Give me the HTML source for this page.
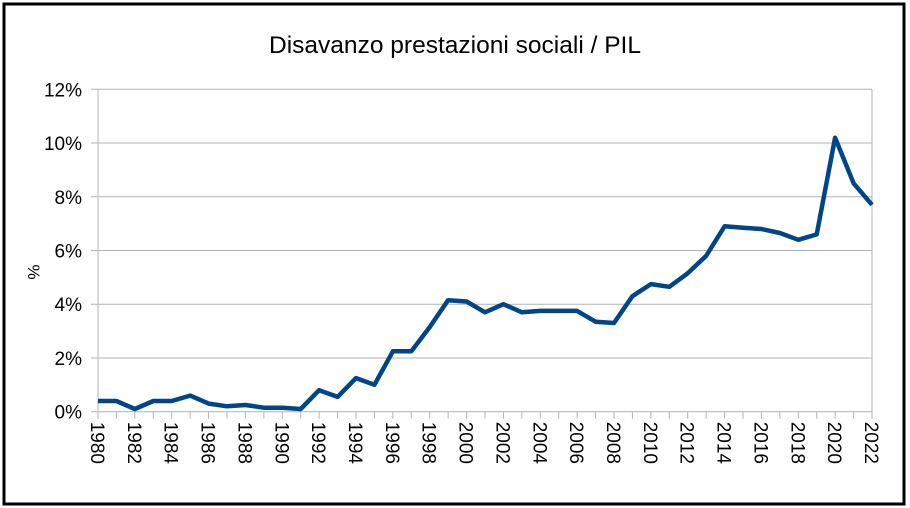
<!DOCTYPE html>
<html><head><meta charset="utf-8"><style>
html,body{margin:0;padding:0;background:#fff;}
svg{display:block;font-family:"Liberation Sans",Arial,sans-serif;}
</style></head><body>
<svg id="s" width="910" height="508" viewBox="0 0 910 508" xmlns="http://www.w3.org/2000/svg">
<rect x="0" y="0" width="910" height="508" fill="#fff"/>
<rect x="4" y="4" width="900" height="500" fill="none" stroke="#000" stroke-width="3"/>
<text x="455" y="53" font-size="24" text-anchor="middle" textLength="372" lengthAdjust="spacingAndGlyphs">Disavanzo prestazioni sociali / PIL</text>
<text transform="translate(28,272) rotate(90)" font-size="17" text-anchor="middle">%</text>
<g id="g"></g>
</svg>
<script>
var g=document.getElementById('g');
var x0=98,x1=872,y0=411.7,yt=89.3,py=(y0-yt)/12,px=(x1-x0)/42;
var h='';
for(var i=0;i<=6;i++){var y=y0-i*2*py;
 h+='<line x1="'+(x0-7)+'" x2="'+x1+'" y1="'+y+'" y2="'+y+'" stroke="#b3b3b3" stroke-width="1"/>';
 h+='<text x="82" y="'+(y+7)+'" font-size="19" text-anchor="end">'+(i*2)+'%</text>';}
h+='<line x1="'+x0+'" x2="'+x0+'" y1="'+yt+'" y2="'+(y0+7)+'" stroke="#b3b3b3"/>';
h+='<line x1="'+x1+'" x2="'+x1+'" y1="'+yt+'" y2="'+(y0+7)+'" stroke="#b3b3b3"/>';
for(var k=0;k<=42;k++){var x=x0+k*px;
 h+='<line x1="'+x+'" x2="'+x+'" y1="'+y0+'" y2="'+(y0+7)+'" stroke="#b3b3b3"/>';
 if(k%2==0)h+='<text transform="translate('+(x-7)+','+(y0+10)+') rotate(90)" font-size="19">'+(1980+k)+'</text>';}
var d=[0.4,0.4,0.1,0.4,0.4,0.6,0.3,0.2,0.25,0.15,0.15,0.1,0.8,0.55,1.25,1.0,2.25,2.25,3.15,4.15,4.1,3.7,4.0,3.7,3.75,3.75,3.75,3.35,3.3,4.3,4.75,4.65,5.15,5.8,6.9,6.85,6.8,6.65,6.4,6.6,10.2,8.5,7.7];
var p=d.map(function(v,k){return (x0+k*px).toFixed(1)+','+(y0-v*py).toFixed(1)}).join(' ');
h+='<polyline points="'+p+'" fill="none" stroke="#004586" stroke-width="4.5" stroke-linejoin="round"/>';
g.innerHTML=h;
</script>
</body></html>
